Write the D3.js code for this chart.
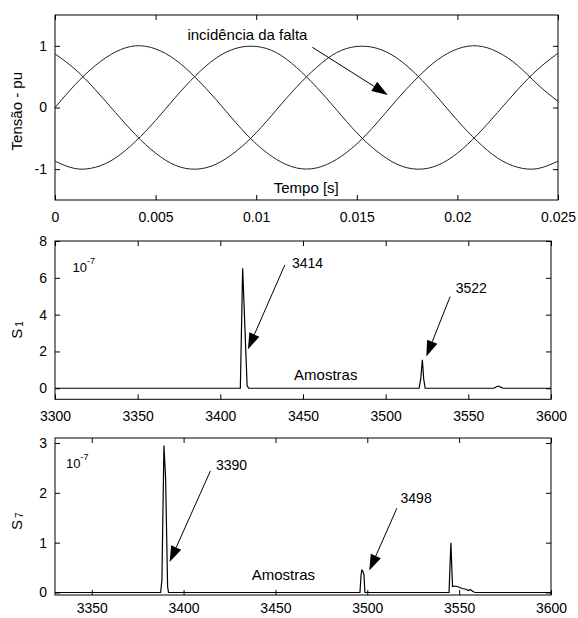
<!DOCTYPE html>
<html>
<head>
<meta charset="utf-8">
<script src="https://cdn.jsdelivr.net/npm/d3@7"></script>
<style>
body { margin: 0; background: #fff; }
svg text { font-family: "Liberation Sans", Arial, Helvetica, sans-serif; fill: #000; }
</style>
</head>
<body>
<script>
// ---- dados ----
var tempo = [0,0.001,0.002,0.003,0.004,0.005,0.006,0.007,0.008,0.009,0.010,0.011,0.012,
             0.013,0.014,0.015,0.016,0.017,0.018,0.019,0.020,0.021,0.022,0.023,0.024,0.025]
var faseA = [0.00,0.37,0.68,0.90,1.00,0.95,0.77,0.48,0.13,-0.25,-0.59,-0.84,-0.98,
             -0.98,-0.84,-0.59,-0.25,0.13,0.48,0.77,0.95,1.00,0.90,0.68,0.37,0.10]
var faseB = [-0.87,-0.99,-0.97,-0.82,-0.55,-0.21,0.17,0.52,0.80,0.96,0.99,0.89,0.65,
             0.33,-0.04,-0.41,-0.71,-0.92,-1.00,-0.94,-0.74,-0.44,-0.08,0.29,0.62,0.88]
var faseC = [0.87,0.62,0.29,-0.08,-0.44,-0.74,-0.94,-1.00,-0.92,-0.71,-0.41,-0.04,0.33,
             0.65,0.89,0.99,0.96,0.80,0.52,0.17,-0.21,-0.55,-0.82,-0.97,-0.99,-0.87]

var amostrasS1 = [3300,3412.1,3413.5,3416.2,3417.1,3520.2,3521.2,3522.2,3523,3523.9,
                  3565.5,3567,3568.3,3569.5,3571,3600]
var valoresS1  = [0,0,6.52,0.15,0,0,0.5,1.55,0.5,0,0,0.08,0.12,0.06,0,0]

var amostrasS7 = [3330,3387.5,3388.2,3389.3,3390.2,3391.3,3391.8,3496,3496.6,3497,3497.6,
                  3498.2,3498.7,3544.5,3545.5,3546.4,3547.9,3549.7,3551.5,3553.3,3555.1,
                  3556,3557.5,3558.7,3600]
var valoresS7  = [0,0,0.25,2.95,2.3,0.12,0,0,0.35,0.45,0.43,0.35,0,0,1.0,0.12,0.13,0.11,
                  0.08,0.07,0.04,0.06,0.02,0,0]

var ticksTempo  = [0,0.005,0.01,0.015,0.02,0.025]
var ticksTensao = [-1,0,1]
var ticksS1x = [3300,3350,3400,3450,3500,3550,3600]
var ticksS1y = [0,2,4,6,8]
var ticksS7x = [3350,3400,3450,3500,3550,3600]
var ticksS7y = [0,1,2,3]

// anotações (coordenadas em unidades dos dados)
var textosTopo = [
  {texto: "incidência da falta", x: 0.00658, y: 1.095, tam: 15},
  {texto: "Tempo [s]", x: 0.01087, y: -1.39, tam: 15}
]
var setasTopo = [{x0: 0.01279, y0: 0.976, x1: 0.01654, y1: 0.203}]

var textosS1 = [
  {texto: "3414", x: 3443.3, y: 6.52, tam: 14},
  {texto: "3522", x: 3542.4, y: 5.19, tam: 14},
  {texto: "Amostras", x: 3444.6, y: 0.45, tam: 15}
]
var setasS1 = [
  {x0: 3439, y0: 6.70, x1: 3416.7, y1: 2.12},
  {x0: 3539.0, y0: 4.98, x1: 3524.6, y1: 1.72}
]
var escalaS1 = {x: 3310.6, y: 6.32}

var textosS7 = [
  {texto: "3390", x: 3417.6, y: 2.46, tam: 14},
  {texto: "3498", x: 3518.1, y: 1.79, tam: 14},
  {texto: "Amostras", x: 3437.1, y: 0.25, tam: 15}
]
var setasS7 = [
  {x0: 3414.6, y0: 2.44, x1: 3392.4, y1: 0.61},
  {x0: 3516.1, y0: 1.69, x1: 3501.1, y1: 0.44}
]
var escalaS7 = {x: 3336, y: 2.49}

// ---- desenho ----
var width = 578, height = 618

var svg = d3.select("body").append("svg")
    .attr("width", width)
    .attr("height", height)

function painel(p) {
    var x = d3.scaleLinear().domain(p.xDom).range([p.left, p.right])
    var y = d3.scaleLinear().domain(p.yDom).range([p.bottom, p.top])
    var g = svg.append("g")

    var fmt = function(d){ return String(d) }

    g.append("g")
        .attr("transform", "translate(0," + p.bottom + ")")
        .call(d3.axisBottom(x).tickValues(p.xTicks).tickSizeInner(-5).tickSizeOuter(0).tickPadding(p.pad).tickFormat(fmt))
    g.append("g")
        .attr("transform", "translate(0," + p.top + ")")
        .call(d3.axisTop(x).tickValues(p.xTicks).tickSizeInner(-5).tickSizeOuter(0).tickFormat(""))
    g.append("g")
        .attr("transform", "translate(" + p.left + ",0)")
        .call(d3.axisLeft(y).tickValues(p.yTicks).tickSizeInner(-5).tickSizeOuter(0).tickPadding(8).tickFormat(fmt))
    g.append("g")
        .attr("transform", "translate(" + p.right + ",0)")
        .call(d3.axisRight(y).tickValues(p.yTicks).tickSizeInner(-5).tickSizeOuter(0).tickFormat(""))

    g.selectAll(".domain").remove()
    g.selectAll(".tick line").attr("stroke", "#000")
    g.selectAll(".tick text").attr("font-size", "14px").attr("font-family", null)

    g.append("rect")
        .attr("x", p.left).attr("y", p.top)
        .attr("width", p.right - p.left).attr("height", p.bottom - p.top)
        .attr("fill", "none").attr("stroke", "#000").attr("stroke-width", 1)

    return {x: x, y: y, g: g}
}

function seta(P, s) {
    var x0 = P.x(s.x0), y0 = P.y(s.y0), x1 = P.x(s.x1), y1 = P.y(s.y1)
    var dx = x1 - x0, dy = y1 - y0, len = Math.sqrt(dx*dx + dy*dy)
    var ux = dx/len, uy = dy/len
    var L = 16, w = 5.5
    var bx = x1 - ux*L, by = y1 - uy*L
    P.g.append("line")
        .attr("x1", x0).attr("y1", y0).attr("x2", bx).attr("y2", by)
        .attr("stroke", "#000").attr("stroke-width", 1)
    P.g.append("path")
        .attr("d", "M" + x1 + "," + y1 + "L" + (bx - uy*w) + "," + (by + ux*w) + "L" + (bx + uy*w) + "," + (by - ux*w) + "Z")
        .attr("fill", "#000")
}

function textos(P, lista) {
    P.g.selectAll(null).data(lista).enter().append("text")
        .attr("x", function(d){ return P.x(d.x) })
        .attr("y", function(d){ return P.y(d.y) })
        .attr("font-size", function(d){ return d.tam + "px" })
        .text(function(d){ return d.texto })
}

function escala(P, e) {
    var t = P.g.append("text")
        .attr("x", P.x(e.x)).attr("y", P.y(e.y))
        .attr("font-size", "13px")
    t.append("tspan").text("10")
    t.append("tspan").attr("dy", -8).attr("font-size", "9px").text("-7")
}

function rotulo(P, x, yv, base, sub) {
    var t = P.g.append("text")
        .attr("transform", "translate(" + x + "," + P.y(yv) + ") rotate(-90)")
        .attr("text-anchor", "middle")
        .attr("font-size", "15px")
    t.append("tspan").text(base)
    if (sub) t.append("tspan").attr("dx", 2).attr("dy", 1).attr("font-size", "10px").text(sub)
}

// painel 1: tensões trifásicas
var P1 = painel({left: 55, right: 558, top: 15, bottom: 200, pad: 12,
                 xDom: [0, 0.025], yDom: [-1.5, 1.5],
                 xTicks: ticksTempo, yTicks: ticksTensao})

var linha1 = d3.line()
    .x(function(d){ return P1.x(d[0]) })
    .y(function(d){ return P1.y(d[1]) })
    .curve(d3.curveNatural)

;[faseA, faseB, faseC].forEach(function(f){
    P1.g.append("path")
        .attr("d", linha1(d3.zip(tempo, f)))
        .attr("fill", "none").attr("stroke", "#222").attr("stroke-width", 1)
})
textos(P1, textosTopo)
setasTopo.forEach(function(s){ seta(P1, s) })
rotulo(P1, 22, -0.06, "Tensão - pu")

// painel 2: S1
var P2 = painel({left: 55, right: 551, top: 241, bottom: 399.3, pad: 12,
                 xDom: [3300, 3600], yDom: [-0.6, 8],
                 xTicks: ticksS1x, yTicks: ticksS1y})
var linha2 = d3.line()
    .x(function(d){ return P2.x(d[0]) })
    .y(function(d){ return P2.y(d[1]) })
P2.g.append("path")
    .attr("d", linha2(d3.zip(amostrasS1, valoresS1)))
    .attr("fill", "none").attr("stroke", "#000").attr("stroke-width", 1.2)
textos(P2, textosS1)
setasS1.forEach(function(s){ seta(P2, s) })
escala(P2, escalaS1)
rotulo(P2, 22, 3.17, "S", "1")

// painel 3: S7
var P3 = painel({left: 55, right: 551, top: 438, bottom: 595, pad: 8,
                 xDom: [3330, 3600], yDom: [-0.05, 3.1],
                 xTicks: ticksS7x, yTicks: ticksS7y})
var linha3 = d3.line()
    .x(function(d){ return P3.x(d[0]) })
    .y(function(d){ return P3.y(d[1]) })
P3.g.append("path")
    .attr("d", linha3(d3.zip(amostrasS7, valoresS7)))
    .attr("fill", "none").attr("stroke", "#000").attr("stroke-width", 1.2)
textos(P3, textosS7)
setasS7.forEach(function(s){ seta(P3, s) })
escala(P3, escalaS7)
rotulo(P3, 22, 1.43, "S", "7")
</script>
</body>
</html>
